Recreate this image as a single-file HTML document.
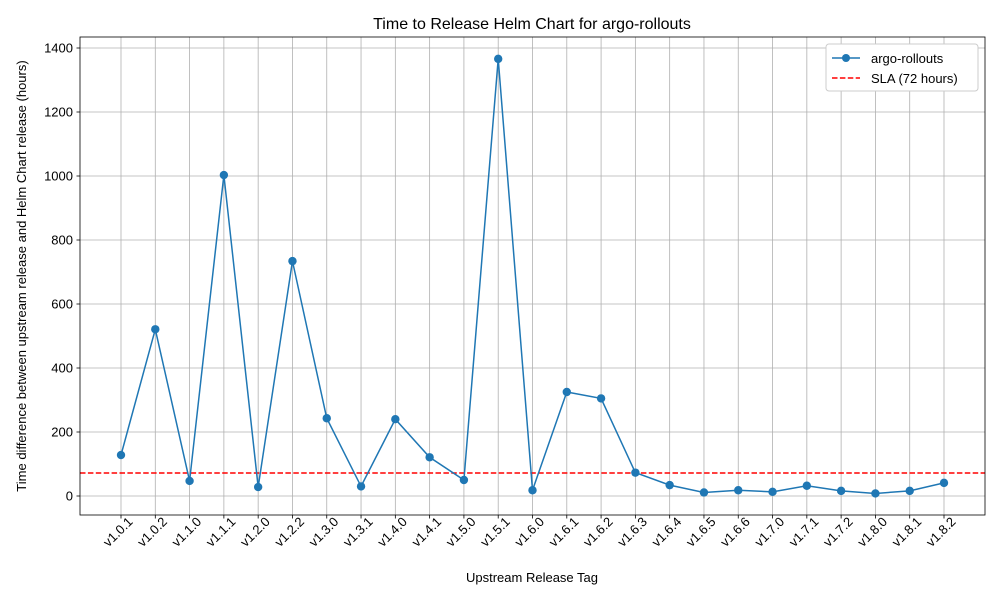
<!DOCTYPE html>
<html><head><meta charset="utf-8"><style>body{margin:0;background:#fff}svg{display:block;font-family:"Liberation Sans",sans-serif}</style></head>
<body>
<svg width="1000" height="600" viewBox="0 0 1000 600" xmlns="http://www.w3.org/2000/svg">
<rect width="1000" height="600" fill="#fff"/>
<g id="grid" stroke="#b0b0b0" stroke-width="0.8"></g>
<line x1="80" y1="472.96" x2="985" y2="472.96" stroke="#ff0000" stroke-width="1.5" stroke-dasharray="5.5,2.4"/>
<polyline id="ln" fill="none" stroke="#1f77b4" stroke-width="1.5"/>
<g id="pts" fill="#1f77b4"></g>
<rect x="80" y="37" width="905" height="478" fill="none" stroke="#000" stroke-width="0.8"/>
<g id="ticks" font-size="13" fill="#000"></g>
<text x="532" y="29" font-size="16" text-anchor="middle">Time to Release Helm Chart for argo-rollouts</text>
<text x="532" y="582" font-size="13" text-anchor="middle">Upstream Release Tag</text>
<text transform="translate(26,276) rotate(-90)" font-size="13" text-anchor="middle">Time difference between upstream release and Helm Chart release (hours)</text>
<rect x="826" y="44" width="152" height="47" fill="#fff" stroke="#ccc" rx="3"/>
<line x1="832" y1="58" x2="860" y2="58" stroke="#1f77b4" stroke-width="1.5"/><circle cx="846" cy="58" r="4" fill="#1f77b4"/>
<text x="871" y="63" font-size="13">argo-rollouts</text>
<line x1="832" y1="78" x2="860" y2="78" stroke="#ff0000" stroke-width="1.5" stroke-dasharray="5.5,2.4"/>
<text x="871" y="83" font-size="13">SLA (72 hours)</text>
<script>
const labels=["v1.0.1","v1.0.2","v1.1.0","v1.1.1","v1.2.0","v1.2.2","v1.3.0","v1.3.1","v1.4.0","v1.4.1","v1.5.0","v1.5.1","v1.6.0","v1.6.1","v1.6.2","v1.6.3","v1.6.4","v1.6.5","v1.6.6","v1.7.0","v1.7.1","v1.7.2","v1.8.0","v1.8.1","v1.8.2"];
const vals=[128,521,47,1003,28,734,243,30,240,121,50,1366,18,325,305,73,34,11,18,13,32,16,8,16,41];
const X=i=>121+i*(823/24), Y=v=>496-v*0.32;
const ns="http://www.w3.org/2000/svg";
const g=document.getElementById("grid"),t=document.getElementById("ticks"),p=document.getElementById("pts");
function el(par,tag,a,txt){const e=document.createElementNS(ns,tag);for(const k in a)e.setAttribute(k,a[k]);if(txt!=null)e.textContent=txt;par.appendChild(e);return e;}
labels.forEach((l,i)=>{const x=X(i);el(g,"line",{x1:x,y1:37,x2:x,y2:515});
el(t,"line",{x1:x,y1:515,x2:x,y2:518.5,stroke:"#000","stroke-width":0.8});
el(t,"text",{transform:`translate(${x},${535}) rotate(-45)`,"text-anchor":"middle"},l);});
for(let v=0;v<=1400;v+=200){const y=Y(v);el(g,"line",{x1:80,y1:y,x2:985,y2:y});
el(t,"line",{x1:76.5,y1:y,x2:80,y2:y,stroke:"#000","stroke-width":0.8});
el(t,"text",{x:73,y:y+4.5,"text-anchor":"end"},v);}
document.getElementById("ln").setAttribute("points",vals.map((v,i)=>X(i)+","+Y(v)).join(" "));
vals.forEach((v,i)=>el(p,"circle",{cx:X(i),cy:Y(v),r:4.2}));
</script>
</svg>
</body></html>
